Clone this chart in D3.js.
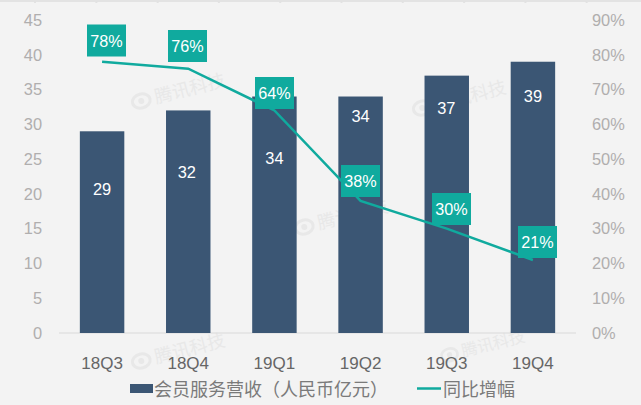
<!DOCTYPE html>
<html>
<head>
<meta charset="utf-8">
<script src="https://cdn.jsdelivr.net/npm/d3@7"></script>
<style>
  html, body { margin: 0; padding: 0; background: #f3f3f3; }
  svg { display: block; }
  text { font-family: "Liberation Sans", "Noto Sans CJK SC", sans-serif; }
</style>
</head>
<body>
<div id="chart"></div>
<script>
// Data
const quarters = ["18Q3", "18Q4", "19Q1", "19Q2", "19Q3", "19Q4"];
const revenue = [29, 32, 34, 34, 37, 39];
const growth = [78, 76, 64, 38, 30, 21];
const leftTicks = [0, 5, 10, 15, 20, 25, 30, 35, 40, 45];
const rightTicks = [0, 10, 20, 30, 40, 50, 60, 70, 80, 90];
const barLegend = "会员服务营收（人民币亿元）";
const lineLegend = "同比增幅";
const watermark = "腾讯科技";

const width = 641, height = 405;
const margin = {top: 20, right: 65, bottom: 72, left: 59};
const innerWidth = width - margin.left - margin.right;
const innerHeight = height - margin.top - margin.bottom;

const barColor = "#3b5674", lineColor = "#10aa9e";
const tickColor = "#b0aeae", catColor = "#666666", legendColor = "#7a7a7a";

const svg = d3.select("#chart").append("svg")
    .attr("width", width).attr("height", height)
    .attr("viewBox", [0, 0, width, height]);

// top edge of the crop, with the faint ticks left over from the source
svg.append("line")
    .attr("x1", 0).attr("x2", width).attr("y1", 1).attr("y2", 1)
    .attr("stroke", "#dedede").attr("stroke-width", 1.5);
svg.append("g").selectAll("line").data(d3.range(35, width, 61.3)).join("line")
    .attr("x1", d => d).attr("x2", d => d).attr("y1", 1).attr("y2", 3)
    .attr("stroke", "#e2e2e2").attr("stroke-width", 2);

const xScale = d3.scaleBand().domain(quarters).range([0, innerWidth]).paddingInner(0.484).paddingOuter(0.242);
const yLeft = d3.scaleLinear().domain([0, 45]).range([innerHeight, 0]);
const yRight = d3.scaleLinear().domain([0, 90]).range([innerHeight, 0]);
const cx = q => xScale(q) + xScale.bandwidth() / 2;

// watermarks, behind the bars
const marks = svg.append("g").attr("fill", "#e8e8e8");
[[134, 109, 1], [134, 369, 1], [297, 235, 1], [415, 116, 1], [443, 362, 0.9]].forEach(([x, y, k]) => {
    const m = marks.append("g").attr("transform", `translate(${x},${y}) rotate(-14) scale(${k})`);
    m.append("ellipse").attr("cx", 9).attr("cy", -6).attr("rx", 9).attr("ry", 7)
        .attr("fill", "none").attr("stroke", "#e8e8e8").attr("stroke-width", 3);
    m.append("circle").attr("cx", 9).attr("cy", -6).attr("r", 3);
    m.append("text").attr("x", 23).attr("y", 0).style("font-size", "18px").text(watermark);
});

const g = svg.append("g").attr("transform", `translate(${margin.left},${margin.top})`);

// baseline
g.append("line")
    .attr("x1", 0).attr("x2", innerWidth)
    .attr("y1", innerHeight).attr("y2", innerHeight)
    .attr("stroke", "#d9d9d9");

// axes
const leftAxis = g.append("g").call(d3.axisLeft(yLeft).tickValues(leftTicks).tickSize(0).tickPadding(17));
const rightAxis = g.append("g").attr("transform", `translate(${innerWidth},0)`)
    .call(d3.axisRight(yRight).tickValues(rightTicks).tickSize(0).tickPadding(16).tickFormat(d => d + "%"));
[leftAxis, rightAxis].forEach(a => {
    a.select(".domain").remove();
    a.selectAll("text").attr("fill", tickColor).style("font-size", "16.4px")
        .style("font-family", '"Liberation Sans", sans-serif');
});

const bottomAxis = g.append("g").attr("transform", `translate(0,${innerHeight})`)
    .call(d3.axisBottom(xScale).tickSize(0).tickPadding(24));
bottomAxis.select(".domain").remove();
bottomAxis.selectAll("text").attr("fill", catColor).style("font-size", "17px")
    .style("font-family", '"Liberation Sans", sans-serif');

// bars
g.selectAll(".bar").data(quarters).join("rect")
    .attr("class", "bar")
    .attr("x", d => xScale(d))
    .attr("width", xScale.bandwidth())
    .attr("y", (d, i) => yLeft(revenue[i]))
    .attr("height", (d, i) => innerHeight - yLeft(revenue[i]))
    .attr("fill", barColor);

// bar values sit in different spots on each bar, as in the source
const barLabelY = [189, 171.5, 158, 116, 108, 96];
const barLabelDx = [0, -1.5, 0, 0, -0.5, 0];
g.selectAll(".bar-label").data(quarters).join("text")
    .attr("class", "bar-label")
    .attr("x", (d, i) => cx(d) + barLabelDx[i])
    .attr("y", (d, i) => barLabelY[i] - margin.top + 6)
    .attr("text-anchor", "middle")
    .attr("fill", "#fff")
    .style("font-size", "16.4px")
    .text((d, i) => revenue[i]);

// growth line
const line = d3.line().x(d => cx(d)).y(d => yRight(growth[quarters.indexOf(d)]));
g.append("path").attr("d", line(quarters))
    .attr("fill", "none").attr("stroke", lineColor).attr("stroke-width", 2.5);

// growth labels, hand placed
const boxLeft = [87, 168, 255, 341, 432, 518];
const boxTop = [24.5, 30, 77, 165, 193, 226];
const boxW = 39, boxH = 32;
const boxes = svg.append("g").selectAll("g").data(growth).join("g")
    .attr("transform", (d, i) => `translate(${boxLeft[i]},${boxTop[i]})`);
boxes.append("rect").attr("width", boxW).attr("height", boxH).attr("fill", lineColor);
boxes.append("text")
    .attr("x", boxW / 2).attr("y", boxH / 2 + 6)
    .attr("text-anchor", "middle").attr("fill", "#fff")
    .style("font-size", "16.2px")
    .text(d => d + "%");

// legend
const legend = svg.append("g");
legend.append("rect").attr("x", 130).attr("y", 384).attr("width", 23).attr("height", 9).attr("fill", barColor);
legend.append("text").attr("x", 154).attr("y", 396).attr("fill", legendColor)
    .style("font-size", "18px").text(barLegend);
legend.append("line").attr("x1", 417).attr("x2", 441).attr("y1", 388.5).attr("y2", 388.5)
    .attr("stroke", lineColor).attr("stroke-width", 2.5);
legend.append("text").attr("x", 443).attr("y", 396).attr("fill", legendColor)
    .style("font-size", "18px").text(lineLegend);
</script>
</body>
</html>
